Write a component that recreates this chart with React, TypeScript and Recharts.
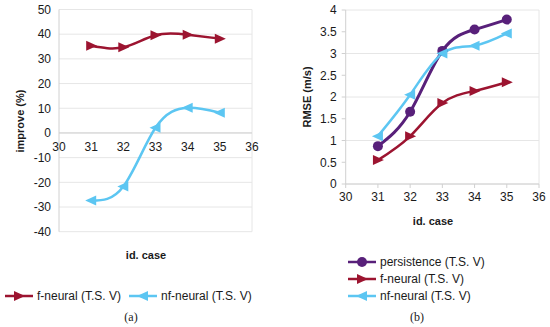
import React from 'react';
import {
  LineChart, Line, XAxis, YAxis, CartesianGrid, ReferenceLine, ReferenceDot
} from 'recharts';

const caseIds = [31, 32, 33, 34, 35];
const improveF = [35.3, 34.7, 39.6, 39.8, 38.2];
const improveNf = [-27.4, -21.7, 2.1, 10.2, 8.2];
const rmsePersistence = [0.87, 1.66, 3.06, 3.55, 3.78];
const rmseF = [0.55, 1.1, 1.86, 2.14, 2.34];
const rmseNf = [1.1, 2.05, 3.0, 3.18, 3.46];

const xTicks = [30, 31, 32, 33, 34, 35, 36];
const improveTicks = [-40, -30, -20, -10, 0, 10, 20, 30, 40, 50];
const rmseTicks = [0, 0.5, 1, 1.5, 2, 2.5, 3, 3.5, 4];

const RED = '#9c1430';
const BLUE = '#5cc6f2';
const PURPLE = '#58207a';
const GRID = '#e6e6e6';
const FONT = '"Liberation Sans", Arial, sans-serif';

const improveData = caseIds.map((c, i) => ({ c, f: improveF[i], nf: improveNf[i] }));
const rmseData = caseIds.map((c, i) => ({ c, p: rmsePersistence[i], f: rmseF[i], nf: rmseNf[i] }));

const TriRight = ({ cx, cy, fill }: any) => (
  <polygon points={`${cx - 5},${cy - 5} ${cx + 6},${cy} ${cx - 5},${cy + 5}`} fill={fill} />
);
const TriLeft = ({ cx, cy, fill }: any) => (
  <polygon points={`${cx + 5},${cy - 5} ${cx - 6},${cy} ${cx + 5},${cy + 5}`} fill={fill} />
);
const Circ = ({ cx, cy, fill }: any) => <circle cx={cx} cy={cy} r={5} fill={fill} />;

const dotRight = (color: string) => (p: any) => <TriRight key={p.index} cx={p.cx} cy={p.cy} fill={color} />;
const dotLeft = (color: string) => (p: any) => <TriLeft key={p.index} cx={p.cx} cy={p.cy} fill={color} />;
const dotCirc = (color: string) => (p: any) => <Circ key={p.index} cx={p.cx} cy={p.cy} fill={color} />;

const tickStyle = { fontSize: 12, fill: '#1a1a1a', fontFamily: FONT };

const LegendItem = ({ color, marker, label, width = 28 }: any) => (
  <div style={{ display: 'flex', alignItems: 'center', height: 17 }}>
    <svg width={width} height={12} style={{ marginRight: 4 }}>
      <line x1={0} y1={6} x2={width} y2={6} stroke={color} strokeWidth={2.5} />
      {marker === 'right' && <TriRight cx={width / 2} cy={6} fill={color} />}
      {marker === 'left' && <TriLeft cx={width / 2} cy={6} fill={color} />}
      {marker === 'circle' && <Circ cx={width / 2} cy={6} fill={color} />}
    </svg>
    <span>{label}</span>
  </div>
);

const abs = (left: number, top: number, extra: any = {}): React.CSSProperties => ({
  position: 'absolute', left, top, fontFamily: FONT, fontSize: 12, color: '#1a1a1a', whiteSpace: 'nowrap', ...extra,
});

export default function App() {
  return (
    <div style={{ position: 'absolute', left: 0, top: 0, width: 550, height: 327, background: '#fff', overflow: 'hidden' }}>
      {/* (a) improve */}
      <div style={{ position: 'absolute', left: 0, top: 0 }}>
        <LineChart width={275} height={327} data={improveData}
          margin={{ top: 9.5, right: 23, left: 19, bottom: 95.3 }}>
          <CartesianGrid stroke={GRID} vertical={false} />
          <XAxis dataKey="c" type="number" domain={[30, 36]} ticks={xTicks} hide />
          <YAxis type="number" domain={[-40, 50]} ticks={improveTicks} width={40}
            axisLine={{ stroke: '#d0d0d0' }} tickLine={false} tickSize={6} tickMargin={2} tick={tickStyle} />
          <ReferenceLine x={36} stroke={GRID} />
          <ReferenceLine y={0} stroke="#d0d0d0" />
          {xTicks.map(t => (
            <ReferenceDot key={t} x={t} y={0} r={0.1} fill="none" stroke="none"
              label={{ value: String(t), position: 'bottom', offset: 9, style: tickStyle }} />
          ))}
          <Line type="natural" dataKey="f" stroke={RED} strokeWidth={2.5} dot={dotRight(RED)} isAnimationActive={false} />
          <Line type="natural" dataKey="nf" stroke={BLUE} strokeWidth={2.5} dot={dotLeft(BLUE)} isAnimationActive={false} />
        </LineChart>
      </div>
      <div style={abs(20, 121, { fontSize: 11, fontWeight: 'bold', transform: 'translate(-50%, -50%) rotate(-90deg)' })}>improve (%)</div>
      <div style={abs(146, 255, { fontSize: 11, fontWeight: 'bold', transform: 'translate(-50%, -50%)' })}>id. case</div>
      <div style={abs(5, 287, { display: 'flex', gap: 8 })}>
        <LegendItem color={RED} marker="right" label="f-neural (T.S. V)" />
        <LegendItem color={BLUE} marker="left" label="nf-neural (T.S. V)" />
      </div>
      <div style={abs(131, 317, { fontFamily: '"Liberation Serif", serif', fontSize: 12, transform: 'translate(-50%, -50%)' })}>(a)</div>

      {/* (b) RMSE */}
      <div style={{ position: 'absolute', left: 275, top: 0 }}>
        <LineChart width={275} height={327} data={rmseData}
          margin={{ top: 10, right: 11, left: 30.7, bottom: 113 }}>
          <CartesianGrid stroke={GRID} vertical={false} />
          <XAxis dataKey="c" type="number" domain={[30, 36]} ticks={xTicks} height={30}
            axisLine={{ stroke: '#d0d0d0' }} tickLine={{ stroke: '#d0d0d0' }} tickSize={4} tickMargin={4} tick={tickStyle} />
          <YAxis type="number" domain={[0, 4]} ticks={rmseTicks} width={40}
            axisLine={{ stroke: '#d0d0d0' }} tickLine={{ stroke: '#d0d0d0' }} tickSize={4} tickMargin={5} tick={tickStyle} />
          <ReferenceLine x={36} stroke={GRID} />
          <Line type="natural" dataKey="p" stroke={PURPLE} strokeWidth={3} dot={dotCirc(PURPLE)} isAnimationActive={false} />
          <Line type="natural" dataKey="f" stroke={RED} strokeWidth={2.5} dot={dotRight(RED)} isAnimationActive={false} />
          <Line type="natural" dataKey="nf" stroke={BLUE} strokeWidth={2.5} dot={dotLeft(BLUE)} isAnimationActive={false} />
        </LineChart>
      </div>
      <div style={abs(306.7, 97, { fontSize: 11, fontWeight: 'bold', transform: 'translate(-50%, -50%) rotate(-90deg)' })}>RMSE (m/s)</div>
      <div style={abs(433, 221, { fontSize: 11, fontWeight: 'bold', transform: 'translate(-50%, -50%)' })}>id. case</div>
      <div style={abs(348, 253)}>
        <LegendItem color={PURPLE} marker="circle" label="persistence (T.S. V)" />
        <LegendItem color={RED} marker="right" label="f-neural (T.S. V)" />
        <LegendItem color={BLUE} marker="left" label="nf-neural (T.S. V)" />
      </div>
      <div style={abs(417, 317, { fontFamily: '"Liberation Serif", serif', fontSize: 12, transform: 'translate(-50%, -50%)' })}>(b)</div>
    </div>
  );
}
